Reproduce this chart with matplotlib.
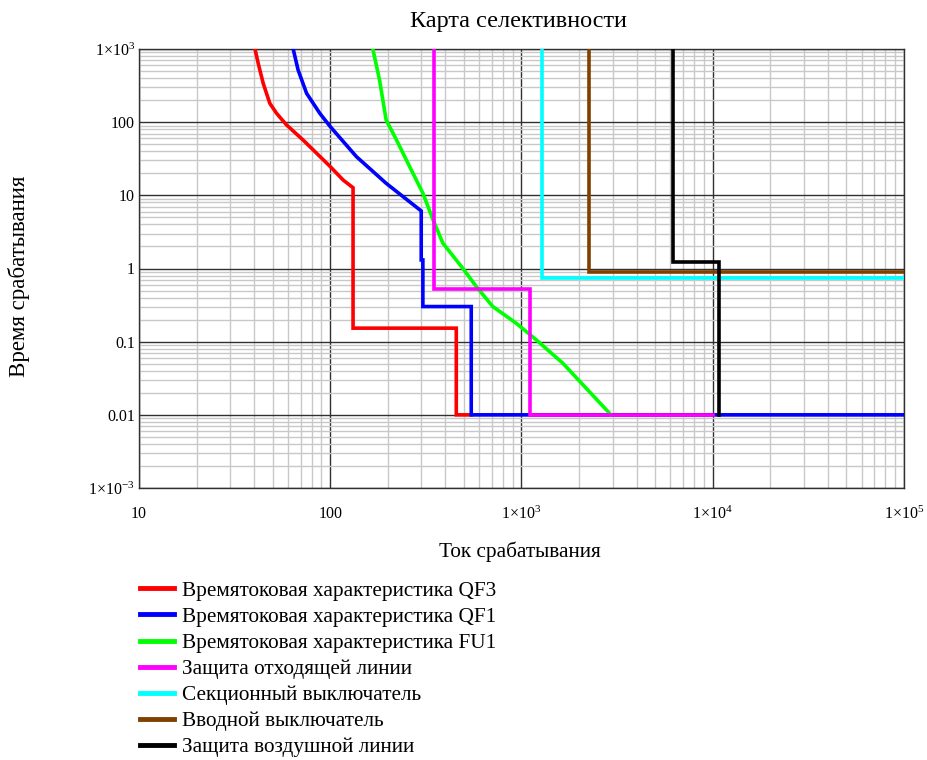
import matplotlib
matplotlib.use("Agg")
import matplotlib.pyplot as plt
from matplotlib.ticker import FixedLocator, FixedFormatter, NullFormatter
import numpy as np

plt.rcParams['font.family'] = ['Liberation Serif', 'DejaVu Serif']
plt.rcParams['mathtext.fontset'] = 'custom'
plt.rcParams['mathtext.rm'] = 'Liberation Serif'
plt.rcParams['mathtext.it'] = 'Liberation Serif'

# ---- data (current A, time s) ----
qf3_i = [40.4, 42.0, 44.6, 48.3, 52.4, 59.1, 72.1, 100, 116.7, 131.6, 131.6, 456, 456, 546]
qf3_t = [1000, 638, 340, 181, 132, 91.6, 57, 24.7, 16.2, 12.7, 0.153, 0.153, 0.01, 0.01]

qf1_i = [64, 67.9, 75.2, 88.2, 100, 137, 196, 299, 299, 305, 305, 546, 546, 1e5]
qf1_t = [1000, 517, 248, 132, 86.9, 33.8, 14.6, 6.12, 1.31, 1.31, 0.302, 0.302, 0.01, 0.01]

fu1_i = [167, 181, 196, 222, 260, 305, 345, 388, 494, 580, 708, 937, 1194, 1644, 2937]
fu1_t = [1000, 377, 107, 57.2, 24.7, 10.7, 4.61, 2.22, 1.0, 0.566, 0.302, 0.179, 0.106, 0.0508, 0.0100]

line_i = [347, 347, 1110, 1110, 1e4]
line_t = [1000, 0.52, 0.52, 0.01, 0.01]

sect_i = [1276, 1276, 1e5]
sect_t = [1000, 0.736, 0.736]

vvod_i = [2265, 2265, 1e5]
vvod_t = [1000, 0.908, 0.908]

vl_i = [6166, 6166, 10720, 10720]
vl_t = [1000, 1.22, 1.22, 0.01]

labels = ["Времятоковая характеристика QF3",
          "Времятоковая характеристика QF1",
          "Времятоковая характеристика FU1",
          "Защита отходящей линии",
          "Секционный выключатель",
          "Вводной выключатель",
          "Защита воздушной линии"]
colors = ["#ff0000", "#0000ff", "#00ff00", "#ff00ff", "#00ffff", "#804000", "#000000"]

x_ticks = [10, 100, 1e3, 1e4, 1e5]
x_ticklabels = ["10", "100", r"1×10$^{3}$", r"1×10$^{4}$", r"1×10$^{5}$"]
y_ticks = [1e-3, 0.01, 0.1, 1, 10, 100, 1e3]
y_ticklabels = [r"1×10$^{−3}$", "0.01", "0.1", "1", "10", "100", r"1×10$^{3}$"]

fig = plt.figure(figsize=(9.28, 7.6), dpi=100)
ax = fig.add_axes([139/928, 1-488/760, (904-139)/928, (488-49)/760])
ax.set_xscale('log')
ax.set_yscale('log')
ax.set_xlim(10, 1e5)
ax.set_ylim(1e-3, 1e3)

series = [(qf3_i, qf3_t), (qf1_i, qf1_t), (fu1_i, fu1_t), (line_i, line_t),
          (sect_i, sect_t), (vvod_i, vvod_t), (vl_i, vl_t)]
for (xi, yt), lab, c in zip(series, labels, colors):
    ax.plot(xi, yt, color=c, lw=2.6, label=lab, solid_joinstyle='miter', zorder=3)

# grid
minor_x = [m * 10**e for e in range(1, 5) for m in range(2, 10)]
minor_y = [m * 10.0**e for e in range(-3, 3) for m in range(2, 10)]
ax.xaxis.set_major_locator(FixedLocator(x_ticks))
ax.xaxis.set_major_formatter(FixedFormatter(x_ticklabels))
ax.yaxis.set_major_locator(FixedLocator(y_ticks))
ax.yaxis.set_major_formatter(FixedFormatter(y_ticklabels))
ax.xaxis.set_minor_locator(FixedLocator(minor_x))
ax.yaxis.set_minor_locator(FixedLocator(minor_y))
ax.xaxis.set_minor_formatter(NullFormatter())
ax.yaxis.set_minor_formatter(NullFormatter())
ax.grid(True, which='minor', color='#c8c8c8', lw=1.0, zorder=1)
ax.grid(True, which='major', color='#303030', lw=1.0, zorder=2)
ax.tick_params(which='both', length=0)
ax.tick_params(axis='x', pad=13, labelsize=11.5)
ax.tick_params(axis='y', pad=3, labelsize=11.5)
for s in ax.spines.values():
    s.set_color('#303030')
    s.set_linewidth(1.0)

fig.text(518/928, 1-22/760, "Карта селективности", ha='center', va='center', fontsize=17.5)
fig.text(520/928, 1-552/760, "Ток срабатывания", ha='center', va='center', fontsize=15.3)
fig.text(19/928, 1-276/760, "Время срабатывания", ha='center', va='center', rotation=90, fontsize=16.5)

handles, labs = ax.get_legend_handles_labels()
leg = fig.legend(handles, labs, loc='upper left', bbox_to_anchor=(140/928, 1-581/760),
                 frameon=False, fontsize=15.3, handlelength=1.6, handletextpad=0.4,
                 labelspacing=0.29, borderpad=0, borderaxespad=0)
for h in leg.get_lines():
    h.set_linewidth(3.5)

fig.savefig("out.png", dpi=100)
